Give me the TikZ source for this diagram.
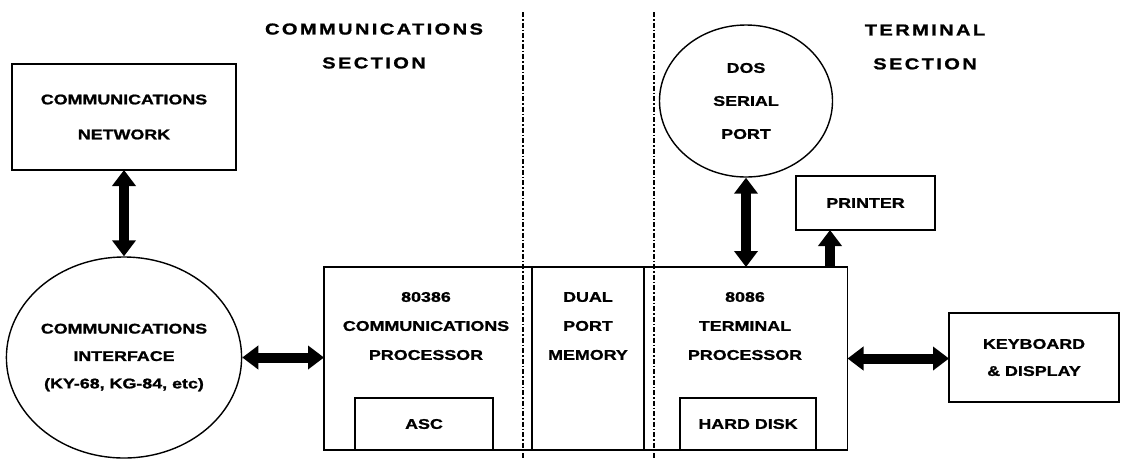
\documentclass[tikz,border=0pt]{standalone}
\usepackage{fontspec}
\newfontfamily\blockfont{Liberation Sans}[FakeStretch=1.27, BoldFeatures={FakeBold=1.2}]
\newfontfamily\sectfont{Liberation Sans}[FakeStretch=1.27, LetterSpace=15, BoldFeatures={FakeBold=1.2}]
\usepackage{tikz}
\usetikzlibrary{shapes.geometric, arrows.meta, positioning}
\tikzstyle{block} = [rectangle, draw=black, line width=1.1pt, inner sep=0pt, outer sep=0pt, text centered]
\tikzstyle{blob} = [ellipse, draw=black, line width=0.8pt, inner sep=0pt, text centered]
\tikzstyle{fat} = [line width=2mm, {Triangle[length=3.2mm,width=4.6mm]}-{Triangle[length=3.2mm,width=4.6mm]}]
\tikzstyle{fatup} = [line width=2mm, -{Triangle[length=3.2mm,width=4.6mm]}]
\tikzstyle{divide} = [line width=0.6pt, dash pattern=on 1mm off 0.4mm on 0.3mm off 0.4mm]
\tikzset{txt/.style={align=center, font=\blockfont\bfseries\fontsize{8}{#1}\selectfont}, txt/.default=16.5}
\tikzset{sect/.style={align=center, font=\sectfont\bfseries\fontsize{9}{19.3}\selectfont}}

\begin{document}
\begin{tikzpicture}[x=0.2mm, y=-0.2mm]
    \useasboundingbox (0,0) rectangle (1126,459);
    % section boundaries
    \draw [divide] (523,12) -- (523,459);
    \draw [divide] (654,12) -- (654,459);
    \node (commsec) [sect] at (374,46) {COMMUNICATIONS\\SECTION};
    \node (termsec) [sect] at (925,47) {TERMINAL\\SECTION};
    % outside world
    \node (net) [block, txt=19.9, minimum width=44.8mm, minimum height=21.2mm] at (124,117) {COMMUNICATIONS\\NETWORK};
    \node (iface) [blob, txt=15.6, minimum width=44.8mm, minimum height=40.2mm] at (124,357.5) {COMMUNICATIONS\\INTERFACE\\(KY-68, KG-84, etc)};
    % processor boards
    \node (cproc) [block, minimum width=41.6mm, minimum height=36.6mm] at (428,358.5) {};
    \node (dpmem) [block, right=0pt of cproc, minimum width=22.4mm, minimum height=36.6mm] {};
    \node (tproc) [block, right=0pt of dpmem, minimum width=40.7mm, minimum height=36.6mm] {};
    \node (cptext) [txt] at (426,326) {80386\\COMMUNICATIONS\\PROCESSOR};
    \node (dptext) [txt] at (dpmem |- cptext) {DUAL\\PORT\\MEMORY};
    \node (tptext) [txt] at (745,326) {8086\\TERMINAL\\PROCESSOR};
    \node (asc) [block, txt, minimum width=27.6mm, minimum height=10.4mm] at (424,424) {ASC};
    \node (hdisk) [block, txt, minimum width=27.2mm, minimum height=10.4mm] at (748,424) {HARD DISK};
    % terminal side
    \node (dos) [blob, txt=18.8, minimum width=34.6mm, minimum height=30.4mm] at (746,101) {DOS\\SERIAL\\PORT};
    \node (prn) [block, txt, minimum width=27.8mm, minimum height=10.8mm] at (865.5,203) {PRINTER};
    \node (kbd) [block, txt=15.4, minimum width=34mm, minimum height=17.8mm] at (1034,357.5) {KEYBOARD\\\& DISPLAY};
    \draw [fat] (net) -- (iface);
    \draw [fat] (iface.east) -- (iface.east -| cproc.west);
    \draw [fat] (dos) -- (dos |- tproc.north);
    \draw [fatup] ([xshift=-7.1mm]prn.south |- tproc.north) -- ([xshift=-7.1mm]prn.south);
    \draw [fat] (tproc.east) -- (tproc.east -| kbd.west);
\end{tikzpicture}
\end{document}
